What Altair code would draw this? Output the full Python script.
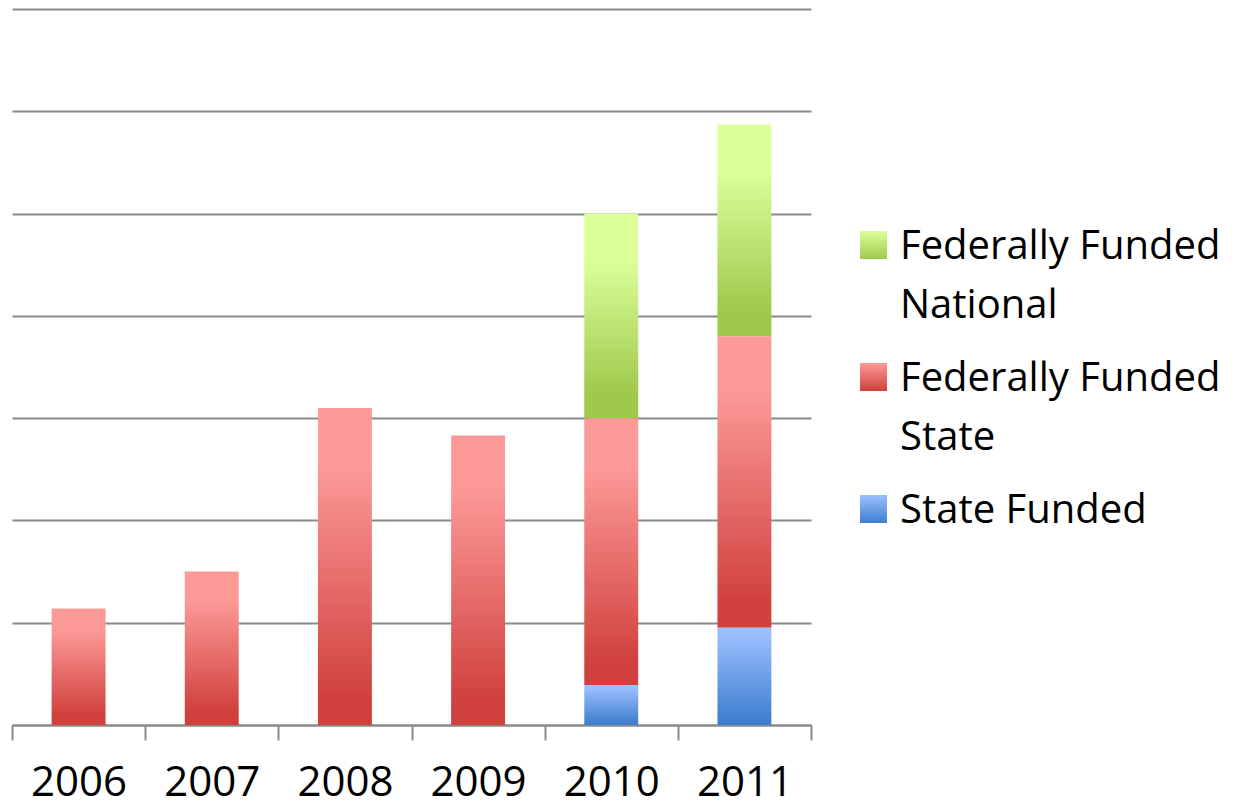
import altair as alt
import pandas as pd

years = ["2006", "2007", "2008", "2009", "2010", "2011"]
state_funded = [0, 0, 0, 0, 0.39, 0.95]
fed_state = [1.14, 1.50, 3.10, 2.83, 2.61, 2.85]
fed_national = [0, 0, 0, 0, 2.00, 2.07]

series_names = ["Federally Funded National", "Federally Funded State", "State Funded"]
legend_labels = ["Federally Funded\nNational", "Federally Funded\nState", "State Funded"]
series_values = [fed_national, fed_state, state_funded]
stack_order = [3, 2, 1]

light = ["#dcff9c", "#fc9a98", "#9cc0ff"]
dark = ["#a0c84b", "#d0403c", "#3f7fcf"]
light_stop = [0.22, 0.18, 0.05]
dark_stop = [0.88, 0.92, 0.95]

rows = []
for name, vals, o in zip(series_names, series_values, stack_order):
    for y, v in zip(years, vals):
        rows.append({"year": y, "series": name, "value": v, "order": o})
df = pd.DataFrame(rows)

FONT = "Open Sans"

X = alt.X(
    "year:N",
    sort=years,
    scale=alt.Scale(paddingInner=0, paddingOuter=0),
    axis=alt.Axis(
        title=None, labelAngle=0, labelFont=FONT, labelFontSize=42, labelColor="#000000",
        labelPadding=22, tickBand="extent", tickSize=15, tickColor="#8a8a8a", tickWidth=2,
        domainColor="#8a8a8a", domainWidth=2, grid=False,
    ),
)
Y = alt.Y(
    "v0:Q",
    scale=alt.Scale(domain=[0, 7], nice=False, zero=True),
    axis=alt.Axis(
        title=None, labels=False, ticks=False, domain=False, grid=True,
        values=[0, 1, 2, 3, 4, 5, 6, 7], gridColor="#8a8a8a", gridWidth=2,
    ),
)

base = alt.Chart(df).transform_filter("datum.value > 0").transform_stack(
    stack="value", groupby=["year"], as_=["v0", "v1"],
    sort=[alt.SortField("order", "ascending")],
)


def gradient(lc, dc, ls, ds):
    return alt.LinearGradient(
        gradient="linear",
        stops=[
            alt.GradientStop(color=lc, offset=0),
            alt.GradientStop(color=lc, offset=ls),
            alt.GradientStop(color=dc, offset=ds),
            alt.GradientStop(color=dc, offset=1),
        ],
        x1=0, x2=0, y1=0, y2=1,
    )


layers = []
for name, lc, dc, ls, ds in zip(series_names, light, dark, light_stop, dark_stop):
    layers.append(
        base.transform_filter(alt.datum.series == name)
        .mark_bar(fill=gradient(lc, dc, ls, ds), width=alt.RelativeBandSize(0.405))
        .encode(x=X, y=Y, y2="v1:Q")
    )

# legend (drawn as marks, to the right of the plot area)
sym_top = [222, 354, 486]
text_base = [250, 382, 514]
for i, (lab, lc, dc) in enumerate(zip(legend_labels, light, dark)):
    ldf = pd.DataFrame({"label": [lab]})
    layers.append(
        alt.Chart(ldf).mark_rect(fill=gradient(lc, dc, 0.0, 1.0)).encode(
            x=alt.value(848), x2=alt.value(875),
            y=alt.value(sym_top[i]), y2=alt.value(sym_top[i] + 28),
        )
    )
    layers.append(
        alt.Chart(ldf).mark_text(
            align="left", baseline="alphabetic", font=FONT, fontSize=40,
            color="#000000", lineBreak="\n", lineHeight=59,
        ).encode(x=alt.value(888), y=alt.value(text_base[i]), text="label:N")
    )

chart = alt.layer(*layers).properties(
    width=799, height=716,
    padding={"left": 4, "top": 1, "right": 422, "bottom": 76},
    autosize=alt.AutoSizeParams(type="none"),
).configure_view(stroke=None)

chart.save("out.html", embed_options={"renderer": "svg", "actions": False})
